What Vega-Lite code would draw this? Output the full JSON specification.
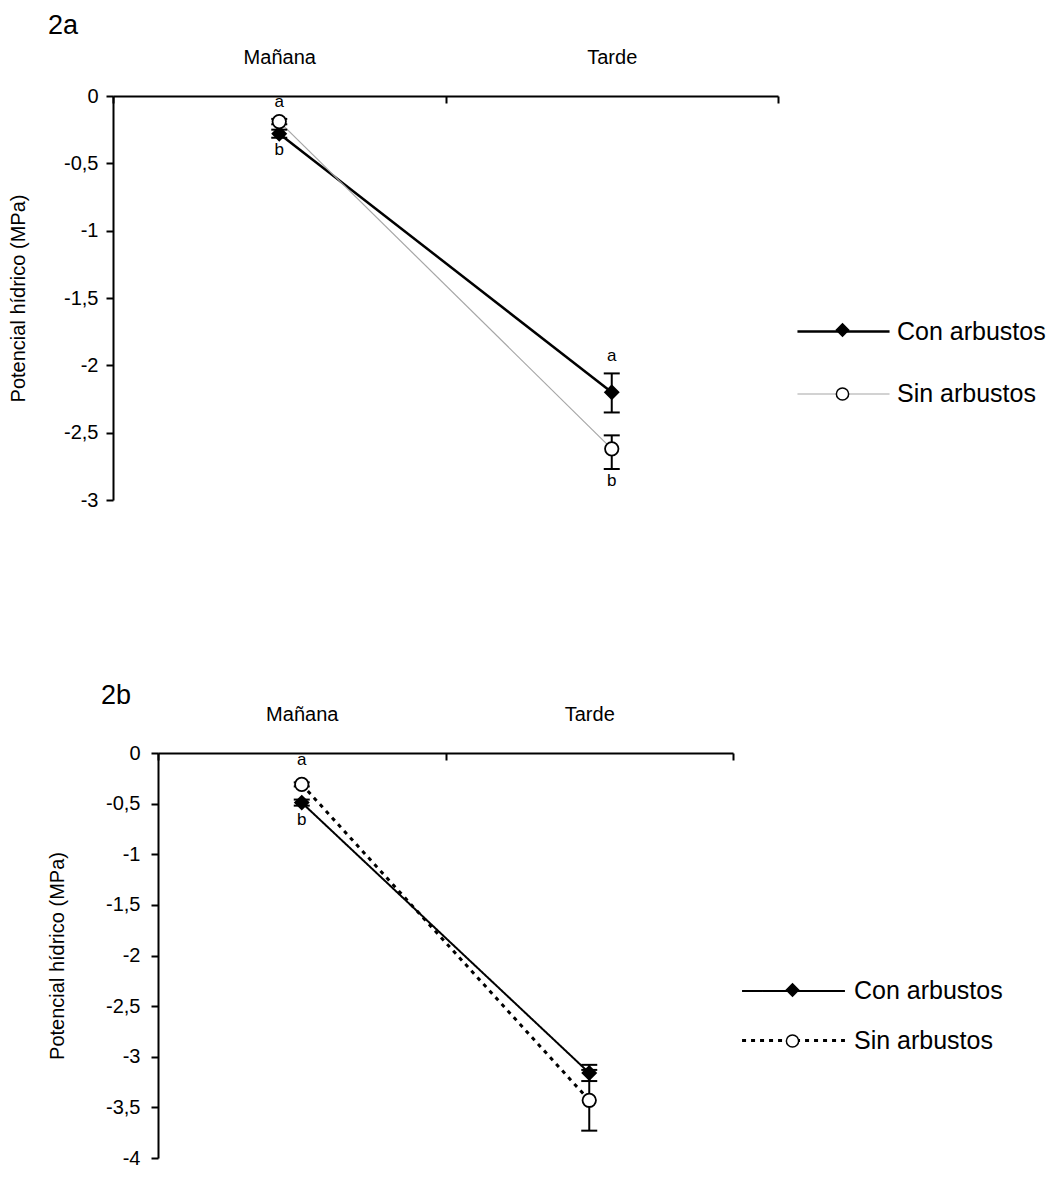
{
  "$schema": "https://vega.github.io/schema/vega-lite/v6.json",
  "background": "white",
  "padding": {"left": 8, "top": 12, "right": 5, "bottom": 5},
  "config": {
    "font": "Liberation Sans",
    "view": {"stroke": null},
    "axis": {"labelColor": "black", "titleColor": "black", "domainColor": "black", "tickColor": "black", "grid": false, "titleFontWeight": "normal", "labelFont": "Liberation Sans", "titleFont": "Liberation Sans"},
    "legend": {"labelColor": "black", "labelFont": "Liberation Sans", "padding": 0},
    "title": {"fontWeight": "normal", "color": "black", "font": "Liberation Sans"}
  },
  "datasets": {
    "d": [
      {"panel": "2a", "periodo": "Mañana", "serie": "Con arbustos", "simbolo": "con", "valor": -0.28, "inf": -0.31, "sup": -0.25, "letra": "b"},
      {"panel": "2a", "periodo": "Mañana", "serie": "Sin arbustos", "simbolo": "sin", "valor": -0.19, "inf": -0.21, "sup": -0.17, "letra": "a"},
      {"panel": "2a", "periodo": "Tarde", "serie": "Con arbustos", "simbolo": "con", "valor": -2.2, "inf": -2.35, "sup": -2.06, "letra": "a"},
      {"panel": "2a", "periodo": "Tarde", "serie": "Sin arbustos", "simbolo": "sin", "valor": -2.62, "inf": -2.77, "sup": -2.52, "letra": "b"},
      {"panel": "2b", "periodo": "Mañana", "serie": "Con arbustos", "simbolo": "con", "valor": -0.49, "inf": -0.52, "sup": -0.46, "letra": "b"},
      {"panel": "2b", "periodo": "Mañana", "serie": "Sin arbustos", "simbolo": "sin", "valor": -0.31, "inf": -0.33, "sup": -0.29, "letra": "a"},
      {"panel": "2b", "periodo": "Tarde", "serie": "Con arbustos", "simbolo": "con", "valor": -3.16, "inf": -3.24, "sup": -3.08, "letra": ""},
      {"panel": "2b", "periodo": "Tarde", "serie": "Sin arbustos", "simbolo": "sin", "valor": -3.43, "inf": -3.73, "sup": -3.13, "letra": ""}
    ]
  },
  "concat": [
    {
      "width": 665,
      "height": 404,
      "title": {"text": "2a", "anchor": "start", "frame": "group", "dx": -65, "fontSize": 27, "offset": 7},
      "data": {"name": "d"},
      "transform": [{"filter": "datum.panel == '2a'"}],
      "encoding": {
        "x": {"field": "periodo", "type": "nominal", "sort": ["Mañana", "Tarde"], "scale": {"type": "band", "paddingInner": 0, "paddingOuter": 0},
          "axis": {"orient": "top", "title": null, "labelAngle": 0, "tickBand": "extent", "tickSize": -7, "tickWidth": 2, "domainWidth": 2, "labelFontSize": 20, "labelPadding": 36}}
      },
      "layer": [
        {
          "mark": {"type": "line"},
          "encoding": {
            "y": {"field": "valor", "type": "quantitative", "scale": {"domain": [-3, 0], "nice": false, "zero": false},
              "axis": {"title": "Potencial hídrico (MPa)", "values": [0, -0.5, -1, -1.5, -2, -2.5, -3], "labelExpr": "replace(toString(datum.value), '.', ',')", "labelFlush": false, "tickSize": 7, "tickWidth": 2, "domainWidth": 2, "labelFontSize": 20, "labelPadding": 8, "titleFontSize": 20, "titlePadding": 35}},
            "color": {"field": "serie", "type": "nominal", "scale": {"domain": ["Con arbustos", "Sin arbustos"], "range": ["black", "#a6a6a6"]},
              "legend": {"orient": "none", "legendX": 714, "legendY": 219, "title": null, "symbolType": "M-3.07,0L3.07,0", "symbolSize": 900, "labelFontSize": 25, "labelOffset": 37, "rowPadding": 33}},
            "strokeWidth": {"field": "serie", "type": "nominal", "scale": {"type": "ordinal", "domain": ["Con arbustos", "Sin arbustos"], "range": [2.5, 1.2]},
              "legend": {"orient": "none", "legendX": 714, "legendY": 219, "title": null, "symbolType": "M-3.07,0L3.07,0", "symbolSize": 900, "labelFontSize": 25, "labelOffset": 37, "rowPadding": 33}}
          }
        },
        {
          "mark": {"type": "rule", "color": "black", "strokeWidth": 2},
          "encoding": {"y": {"field": "inf", "type": "quantitative", "scale": {"domain": [-3, 0], "nice": false, "zero": false},
              "axis": {"title": "Potencial hídrico (MPa)", "values": [0, -0.5, -1, -1.5, -2, -2.5, -3], "labelExpr": "replace(toString(datum.value), '.', ',')", "labelFlush": false, "tickSize": 7, "tickWidth": 2, "domainWidth": 2, "labelFontSize": 20, "labelPadding": 8, "titleFontSize": 20, "titlePadding": 35}}, "y2": {"field": "sup"}}
        },
        {
          "mark": {"type": "tick", "color": "black", "orient": "horizontal", "size": 16, "thickness": 2, "opacity": 1},
          "encoding": {"y": {"field": "inf", "type": "quantitative", "scale": {"domain": [-3, 0], "nice": false, "zero": false},
              "axis": {"title": "Potencial hídrico (MPa)", "values": [0, -0.5, -1, -1.5, -2, -2.5, -3], "labelExpr": "replace(toString(datum.value), '.', ',')", "labelFlush": false, "tickSize": 7, "tickWidth": 2, "domainWidth": 2, "labelFontSize": 20, "labelPadding": 8, "titleFontSize": 20, "titlePadding": 35}}}
        },
        {
          "mark": {"type": "tick", "color": "black", "orient": "horizontal", "size": 16, "thickness": 2, "opacity": 1},
          "encoding": {"y": {"field": "sup", "type": "quantitative", "scale": {"domain": [-3, 0], "nice": false, "zero": false},
              "axis": {"title": "Potencial hídrico (MPa)", "values": [0, -0.5, -1, -1.5, -2, -2.5, -3], "labelExpr": "replace(toString(datum.value), '.', ',')", "labelFlush": false, "tickSize": 7, "tickWidth": 2, "domainWidth": 2, "labelFontSize": 20, "labelPadding": 8, "titleFontSize": 20, "titlePadding": 35}}}
        },
        {
          "mark": {"type": "point", "size": 180, "stroke": "black", "strokeWidth": 1.8, "opacity": 1},
          "encoding": {
            "y": {"field": "valor", "type": "quantitative", "scale": {"domain": [-3, 0], "nice": false, "zero": false},
              "axis": {"title": "Potencial hídrico (MPa)", "values": [0, -0.5, -1, -1.5, -2, -2.5, -3], "labelExpr": "replace(toString(datum.value), '.', ',')", "labelFlush": false, "tickSize": 7, "tickWidth": 2, "domainWidth": 2, "labelFontSize": 20, "labelPadding": 8, "titleFontSize": 20, "titlePadding": 35}},
            "shape": {"field": "simbolo", "type": "nominal", "scale": {"domain": ["con", "sin"], "range": ["diamond", "circle"]},
              "legend": {"orient": "none", "legendX": 717, "legendY": 221.5, "title": null, "symbolSize": 150, "labelFontSize": 25, "labelOpacity": 0, "labelExpr": "''", "rowPadding": 38,
                "encode": {"symbols": {"update": {"fill": {"signal": "datum.value === 'sin' ? 'white' : 'black'"}, "stroke": {"value": "black"}, "strokeWidth": {"value": 1.8}, "opacity": {"value": 1}}}}}},
            "fill": {"field": "simbolo", "type": "nominal", "scale": {"domain": ["con", "sin"], "range": ["black", "white"]}, "legend": null}
          }
        },
        {
          "transform": [{"filter": "datum.letra == 'a'"}],
          "mark": {"type": "text", "baseline": "alphabetic", "dy": -12, "fontSize": 17, "color": "black"},
          "encoding": {"y": {"field": "sup", "type": "quantitative", "scale": {"domain": [-3, 0], "nice": false, "zero": false},
              "axis": {"title": "Potencial hídrico (MPa)", "values": [0, -0.5, -1, -1.5, -2, -2.5, -3], "labelExpr": "replace(toString(datum.value), '.', ',')", "labelFlush": false, "tickSize": 7, "tickWidth": 2, "domainWidth": 2, "labelFontSize": 20, "labelPadding": 8, "titleFontSize": 20, "titlePadding": 35}}, "text": {"field": "letra"}}
        },
        {
          "transform": [{"filter": "datum.letra == 'b'"}],
          "mark": {"type": "text", "baseline": "top", "dy": 4, "fontSize": 17, "color": "black"},
          "encoding": {"y": {"field": "inf", "type": "quantitative", "scale": {"domain": [-3, 0], "nice": false, "zero": false},
              "axis": {"title": "Potencial hídrico (MPa)", "values": [0, -0.5, -1, -1.5, -2, -2.5, -3], "labelExpr": "replace(toString(datum.value), '.', ',')", "labelFlush": false, "tickSize": 7, "tickWidth": 2, "domainWidth": 2, "labelFontSize": 20, "labelPadding": 8, "titleFontSize": 20, "titlePadding": 35}}, "text": {"field": "letra"}}
        }
      ]
    },
    {
      "width": 575,
      "height": 405,
      "title": {"text": "2b", "anchor": "start", "frame": "group", "dx": -57, "fontSize": 27, "offset": -6},
      "data": {"name": "d"},
      "transform": [{"filter": "datum.panel == '2b'"}],
      "encoding": {
        "x": {"field": "periodo", "type": "nominal", "sort": ["Mañana", "Tarde"], "scale": {"type": "band", "paddingInner": 0, "paddingOuter": 0},
          "axis": {"orient": "top", "title": null, "labelAngle": 0, "tickBand": "extent", "tickSize": -7, "tickWidth": 2, "domainWidth": 2, "labelFontSize": 20, "labelPadding": 36}}
      },
      "layer": [
        {
          "mark": {"type": "line", "color": "black"},
          "encoding": {
            "y": {"field": "valor", "type": "quantitative", "scale": {"domain": [-4, 0], "nice": false, "zero": false},
              "axis": {"title": "Potencial hídrico (MPa)", "values": [0, -0.5, -1, -1.5, -2, -2.5, -3, -3.5, -4], "labelExpr": "replace(toString(datum.value), '.', ',')", "labelFlush": false, "tickSize": 7, "tickWidth": 2, "domainWidth": 2, "labelFontSize": 20, "labelPadding": 11, "titleFontSize": 20, "titlePadding": 38}},
            "strokeDash": {"field": "serie", "type": "nominal", "scale": {"domain": ["Con arbustos", "Sin arbustos"], "range": [[1, 0], [4, 5]]},
              "legend": {"orient": "none", "legendX": 619, "legendY": 222, "title": null, "symbolType": "M-3.43,0L3.43,0", "symbolSize": 900, "symbolStrokeColor": "black", "labelFontSize": 25, "labelOffset": 44, "rowPadding": 20}},
            "strokeWidth": {"field": "serie", "type": "nominal", "scale": {"type": "ordinal", "domain": ["Con arbustos", "Sin arbustos"], "range": [2, 3]},
              "legend": {"orient": "none", "legendX": 619, "legendY": 222, "title": null, "symbolType": "M-3.43,0L3.43,0", "symbolSize": 900, "symbolStrokeColor": "black", "labelFontSize": 25, "labelOffset": 44, "rowPadding": 20}}
          }
        },
        {
          "mark": {"type": "rule", "color": "black", "strokeWidth": 2},
          "encoding": {"y": {"field": "inf", "type": "quantitative", "scale": {"domain": [-4, 0], "nice": false, "zero": false},
              "axis": {"title": "Potencial hídrico (MPa)", "values": [0, -0.5, -1, -1.5, -2, -2.5, -3, -3.5, -4], "labelExpr": "replace(toString(datum.value), '.', ',')", "labelFlush": false, "tickSize": 7, "tickWidth": 2, "domainWidth": 2, "labelFontSize": 20, "labelPadding": 11, "titleFontSize": 20, "titlePadding": 38}}, "y2": {"field": "sup"}}
        },
        {
          "mark": {"type": "tick", "color": "black", "orient": "horizontal", "size": 16, "thickness": 2, "opacity": 1},
          "encoding": {"y": {"field": "inf", "type": "quantitative", "scale": {"domain": [-4, 0], "nice": false, "zero": false},
              "axis": {"title": "Potencial hídrico (MPa)", "values": [0, -0.5, -1, -1.5, -2, -2.5, -3, -3.5, -4], "labelExpr": "replace(toString(datum.value), '.', ',')", "labelFlush": false, "tickSize": 7, "tickWidth": 2, "domainWidth": 2, "labelFontSize": 20, "labelPadding": 11, "titleFontSize": 20, "titlePadding": 38}}}
        },
        {
          "mark": {"type": "tick", "color": "black", "orient": "horizontal", "size": 16, "thickness": 2, "opacity": 1},
          "encoding": {"y": {"field": "sup", "type": "quantitative", "scale": {"domain": [-4, 0], "nice": false, "zero": false},
              "axis": {"title": "Potencial hídrico (MPa)", "values": [0, -0.5, -1, -1.5, -2, -2.5, -3, -3.5, -4], "labelExpr": "replace(toString(datum.value), '.', ',')", "labelFlush": false, "tickSize": 7, "tickWidth": 2, "domainWidth": 2, "labelFontSize": 20, "labelPadding": 11, "titleFontSize": 20, "titlePadding": 38}}}
        },
        {
          "mark": {"type": "point", "size": 180, "stroke": "black", "strokeWidth": 1.8, "opacity": 1},
          "encoding": {
            "y": {"field": "valor", "type": "quantitative", "scale": {"domain": [-4, 0], "nice": false, "zero": false},
              "axis": {"title": "Potencial hídrico (MPa)", "values": [0, -0.5, -1, -1.5, -2, -2.5, -3, -3.5, -4], "labelExpr": "replace(toString(datum.value), '.', ',')", "labelFlush": false, "tickSize": 7, "tickWidth": 2, "domainWidth": 2, "labelFontSize": 20, "labelPadding": 11, "titleFontSize": 20, "titlePadding": 38}},
            "shape": {"field": "simbolo", "type": "nominal", "scale": {"domain": ["con", "sin"], "range": ["diamond", "circle"]},
              "legend": {"orient": "none", "legendX": 622, "legendY": 224.5, "title": null, "symbolSize": 150, "labelFontSize": 25, "labelOpacity": 0, "labelExpr": "''", "rowPadding": 25,
                "encode": {"symbols": {"update": {"fill": {"signal": "datum.value === 'sin' ? 'white' : 'black'"}, "stroke": {"value": "black"}, "strokeWidth": {"value": 1.8}, "opacity": {"value": 1}}}}}},
            "fill": {"field": "simbolo", "type": "nominal", "scale": {"domain": ["con", "sin"], "range": ["black", "white"]}, "legend": null}
          }
        },
        {
          "transform": [{"filter": "datum.letra == 'a'"}],
          "mark": {"type": "text", "baseline": "alphabetic", "dy": -17, "fontSize": 17, "color": "black"},
          "encoding": {"y": {"field": "sup", "type": "quantitative", "scale": {"domain": [-4, 0], "nice": false, "zero": false},
              "axis": {"title": "Potencial hídrico (MPa)", "values": [0, -0.5, -1, -1.5, -2, -2.5, -3, -3.5, -4], "labelExpr": "replace(toString(datum.value), '.', ',')", "labelFlush": false, "tickSize": 7, "tickWidth": 2, "domainWidth": 2, "labelFontSize": 20, "labelPadding": 11, "titleFontSize": 20, "titlePadding": 38}}, "text": {"field": "letra"}}
        },
        {
          "transform": [{"filter": "datum.letra == 'b'"}],
          "mark": {"type": "text", "baseline": "top", "dy": 6, "fontSize": 17, "color": "black"},
          "encoding": {"y": {"field": "inf", "type": "quantitative", "scale": {"domain": [-4, 0], "nice": false, "zero": false},
              "axis": {"title": "Potencial hídrico (MPa)", "values": [0, -0.5, -1, -1.5, -2, -2.5, -3, -3.5, -4], "labelExpr": "replace(toString(datum.value), '.', ',')", "labelFlush": false, "tickSize": 7, "tickWidth": 2, "domainWidth": 2, "labelFontSize": 20, "labelPadding": 11, "titleFontSize": 20, "titlePadding": 38}}, "text": {"field": "letra"}}
        }
      ]
    }
  ],
  "columns": 1,
  "align": "all",
  "bounds": "flush",
  "center": true,
  "spacing": 252,
  "resolve": {
    "scale": {"color": "independent", "strokeWidth": "independent", "strokeDash": "independent", "shape": "independent", "fill": "independent"},
    "legend": {"color": "independent", "strokeWidth": "independent", "strokeDash": "independent", "shape": "independent", "fill": "independent"}
  }
}
